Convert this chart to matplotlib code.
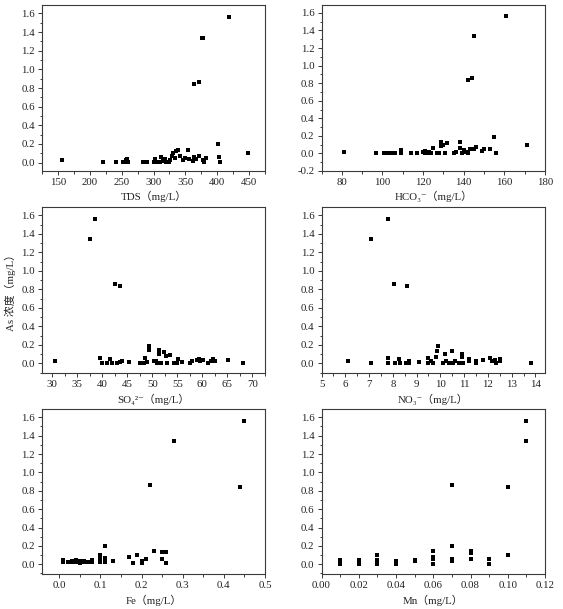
import matplotlib
matplotlib.use("Agg")
import matplotlib.pyplot as plt
from matplotlib.ticker import MultipleLocator, AutoMinorLocator, FormatStrFormatter

# ---------------- data ----------------
tds_x = [157, 220, 241, 252, 255, 257, 259, 260, 283, 287, 290, 301, 303, 305, 310, 312, 315, 318, 320,
         324, 326, 329, 330, 333, 335, 338, 341, 347, 350, 354, 355, 362, 363, 366, 371, 378, 380, 382,
         402, 403, 404, 449, 363, 371, 376, 378, 419]
tds_as = [0.03, 0.005, 0.005, 0.005, 0.01, 0.03, 0.04, 0.005, 0.01, 0.005, 0.01, 0.01, 0.04, 0.005, 0.005,
          0.06, 0.02, 0.04, 0.01, 0.005, 0.03, 0.07, 0.1, 0.05, 0.12, 0.13, 0.07, 0.03, 0.05, 0.13, 0.04,
          0.02, 0.06, 0.04, 0.07, 0.03, 0.01, 0.05, 0.2, 0.06, 0.005, 0.1, 0.84, 0.86, 1.34, 1.34, 1.56]

hco3_x = [81, 97, 101, 102, 104, 105, 106, 109, 109, 114, 117, 120, 121, 121, 122, 123, 124, 125, 127, 128,
          129, 129, 130, 131, 132, 135, 136, 138, 138, 139, 140, 141, 142, 143, 145, 146, 149, 150, 153,
          155, 156, 171, 142, 144, 145, 161]
hco3_as = [0.02, 0.0, 0.0, 0.0, 0.0, 0.005, 0.01, 0.01, 0.04, 0.01, 0.01, 0.02, 0.03, 0.005, 0.0, 0.02,
           0.005, 0.06, 0.0, 0.005, 0.13, 0.08, 0.1, 0.0, 0.12, 0.01, 0.02, 0.13, 0.06, 0.005, 0.04, 0.02,
           0.005, 0.05, 0.05, 0.07, 0.03, 0.05, 0.05, 0.19, 0.0, 0.1, 0.84, 0.86, 1.34, 1.56]

so4_x = [30.5, 37.5, 38.5, 42.5, 43.5, 39.5, 40, 41, 41.5, 42, 43, 43.5, 44, 45.3, 47.5, 48.3, 48.6, 49,
         49.4, 49.4, 50.4, 50.8, 51.0, 51.3, 51.3, 51.8, 52.3, 52.8, 53, 53.6, 54.3, 55.0, 55.2, 55.9,
         57.5, 58, 59, 59.3, 59.6, 60.2, 61.2, 61.7, 62.2, 62.5, 65.2, 68.1]
so4_as = [0.02, 1.34, 1.56, 0.86, 0.84, 0.06, 0.005, 0.005, 0.05, 0.005, 0.005, 0.01, 0.03, 0.01, 0.005,
          0.005, 0.06, 0.01, 0.19, 0.14, 0.03, 0.02, 0.005, 0.14, 0.1, 0.005, 0.12, 0.08, 0.005, 0.09,
          0.005, 0.005, 0.05, 0.01, 0.005, 0.03, 0.04, 0.05, 0.02, 0.04, 0.005, 0.02, 0.05, 0.02, 0.04, 0.005]

no3_x = [6.1, 7.1, 7.1, 7.8, 8.05, 8.6, 7.8, 7.8, 8.1, 8.25, 8.3, 8.55, 8.7, 8.7, 9.1, 9.5, 9.5, 9.6, 9.7,
         9.8, 9.85, 9.9, 10.1, 10.2, 10.25, 10.35, 10.5, 10.55, 10.6, 10.9, 10.9, 10.8, 10.95, 11.2, 11.2,
         11.5, 11.5, 11.8, 12.1, 12.15, 12.3, 12.35, 12.5, 12.5, 13.8]
no3_as = [0.02, 0.005, 1.34, 1.56, 0.86, 0.84, 0.06, 0.005, 0.005, 0.05, 0.005, 0.005, 0.03, 0.005, 0.01,
          0.06, 0.005, 0.02, 0.005, 0.07, 0.13, 0.19, 0.005, 0.1, 0.03, 0.005, 0.13, 0.005, 0.02, 0.1,
          0.07, 0.005, 0.005, 0.05, 0.03, 0.03, 0.005, 0.04, 0.06, 0.03, 0.04, 0.005, 0.05, 0.03, 0.005]

fe_x = [0.01, 0.01, 0.02, 0.025, 0.03, 0.035, 0.04, 0.04, 0.05, 0.05, 0.06, 0.06, 0.07, 0.08, 0.08, 0.1,
        0.1, 0.1, 0.11, 0.11, 0.11, 0.13, 0.17, 0.18, 0.19, 0.2, 0.2, 0.21, 0.23, 0.25, 0.25, 0.26, 0.26,
        0.22, 0.28, 0.44, 0.45]
fe_as = [0.05, 0.03, 0.02, 0.02, 0.04, 0.02, 0.05, 0.02, 0.04, 0.01, 0.04, 0.02, 0.03, 0.05, 0.02, 0.1,
         0.07, 0.03, 0.2, 0.07, 0.02, 0.04, 0.08, 0.01, 0.1, 0.04, 0.01, 0.06, 0.14, 0.13, 0.06, 0.13, 0.01,
         0.86, 1.34, 0.84, 1.56]

mn_x = [0.01, 0.01, 0.01, 0.01, 0.02, 0.02, 0.02, 0.02, 0.03, 0.03, 0.03, 0.03, 0.03, 0.04, 0.04, 0.04,
        0.05, 0.05, 0.06, 0.06, 0.06, 0.06, 0.07, 0.07, 0.07, 0.07, 0.08, 0.08, 0.08, 0.09, 0.09, 0.10,
        0.10, 0.11, 0.11]
mn_as = [0.005, 0.02, 0.04, 0.05, 0.005, 0.02, 0.04, 0.05, 0.005, 0.02, 0.04, 0.05, 0.1, 0.005, 0.02,
         0.04, 0.04, 0.05, 0.005, 0.06, 0.08, 0.14, 0.2, 0.04, 0.06, 0.86, 0.06, 0.12, 0.14, 0.005, 0.06,
         0.1, 0.84, 1.34, 1.56]

xlabels = ["TDS（mg/L）", "HCO₃⁻（mg/L）", "SO₄²⁻（mg/L）", "NO₃⁻（mg/L）", "Fe（mg/L）", "Mn（mg/L）"]
ylabel = "As 浓度（mg/L）"

FAM = ["Liberation Serif", "DejaVu Serif", "Noto Sans CJK SC"]
plt.rcParams['font.family'] = FAM

W, H = 563, 609
fig = plt.figure(figsize=(W / 100, H / 100), dpi=100)

cols = [(42, 265), (321.5, 545)]
rows = [(5, 171), (207, 373.3), (409, 574.3)]

panels = [
    (tds_x, tds_as, (125, 475), (-0.09, 1.69), 50, 0.2, 3.4),
    (hco3_x, hco3_as, (70, 180), (-0.2, 1.69), 20, 0.2, 3.4),
    (so4_x, so4_as, (28, 72.5), (-0.108, 1.69), 5, 0.2, 3.4),
    (no3_x, no3_as, (5, 14.4), (-0.108, 1.69), 1, 0.2, 3.4),
    (fe_x, fe_as, (-0.042, 0.5), (-0.109, 1.69), 0.1, 0.2, 3.0),
    (mn_x, mn_as, (0.0, 0.12), (-0.109, 1.69), 0.02, 0.2, 3.0),
]

spine_c = "#3a3a3a"
for i, (xs, ys, xl, yl, xmaj, ymaj, ms) in enumerate(panels):
    r, c = divmod(i, 2)
    x0, x1 = cols[c]
    y0, y1 = rows[r]
    ax = fig.add_axes([x0 / W, 1 - y1 / H, (x1 - x0) / W, (y1 - y0) / H])
    ax.plot(xs, ys, linestyle='none', marker='s', color='black', markersize=ms, markeredgewidth=0)
    ax.set_xlim(*xl)
    ax.set_ylim(*yl)
    ax.xaxis.set_major_locator(MultipleLocator(xmaj))
    ax.yaxis.set_major_locator(MultipleLocator(ymaj))
    ax.xaxis.set_minor_locator(AutoMinorLocator(2))
    ax.yaxis.set_minor_locator(AutoMinorLocator(2))
    if i == 1:
        ax.set_xticks([80, 100, 120, 140, 160, 180])
    for s in ax.spines.values():
        s.set_color(spine_c)
        s.set_linewidth(0.8)
    ax.tick_params(which='both', direction='out', top=False, right=False, colors=spine_c,
                   labelcolor='#222222', labelsize=7.8, width=0.7)
    ax.tick_params(which='major', length=3, pad=2)
    ax.tick_params(which='minor', length=1.8)
    if i == 4:
        ax.xaxis.set_major_formatter(FormatStrFormatter('%.1f'))
    if i == 5:
        ax.xaxis.set_major_formatter(FormatStrFormatter('%.2f'))
    ax.yaxis.set_major_formatter(FormatStrFormatter('%.1f'))
    ax.set_xlabel(xlabels[i], fontsize=7.8, color='#222222', labelpad=3, family=FAM)
    if i == 2:
        ax.set_ylabel(ylabel, fontsize=7.8, color='#222222', labelpad=4, family=FAM)

fig.savefig("out.png", dpi=100)
